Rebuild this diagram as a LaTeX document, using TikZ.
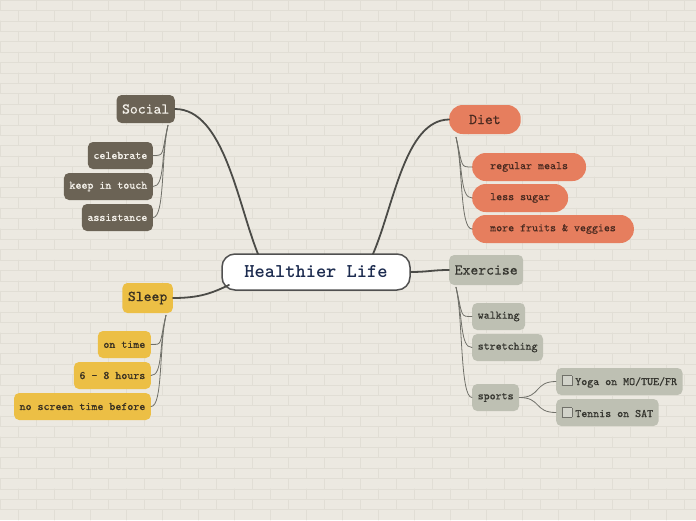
\documentclass[tikz,border=0pt]{standalone}
\usepackage{fontspec}
\usetikzlibrary{calc}
\newfontfamily\mapfont{lmmono10-regular.otf}[FakeBold=0.5]
\definecolor{paper}{HTML}{ECE9E1}
\definecolor{mortar}{HTML}{E1DED5}
\definecolor{hubline}{HTML}{505050}
\definecolor{hubtext}{HTML}{1C2B4F}
\definecolor{branch}{HTML}{4B4B47}
\definecolor{twig}{HTML}{707069}
\definecolor{socialfill}{HTML}{6B6355}
\definecolor{socialtext}{HTML}{F4F1EA}
\definecolor{sleepfill}{HTML}{ECBF45}
\definecolor{sleeptext}{HTML}{3B3222}
\definecolor{dietfill}{HTML}{E67E5E}
\definecolor{diettext}{HTML}{4A2A20}
\definecolor{exfill}{HTML}{BEC0B3}
\definecolor{extext}{HTML}{35352F}
\newcommand\tickbox{{\setlength\fboxsep{0pt}\setlength\fboxrule{0.8pt}%
  \fcolorbox{twig}{exfill!70!white}{\rule{0pt}{9pt}\hspace{9pt}}}\hspace{3pt}}
\tikzset{
  mapbase/.style={x=1pt, y=-1pt, line cap=round, line join=round},
  hubnode/.style={
    draw=hubline, line width=1.5pt, fill=white,
    rounded corners=13pt,
    minimum width=188pt, minimum height=36pt,
    font=\ttfamily\bfseries\fontsize{19.5}{22}\selectfont, text=hubtext,
  },
  topic/.style={
    rounded corners=5pt, minimum height=28pt, inner xsep=5.5pt,
    font=\mapfont\fontsize{15}{18}\selectfont,
  },
  leaf/.style={
    rounded corners=5pt, minimum height=27pt, inner xsep=5.5pt,
    font=\mapfont\fontsize{11.4}{13}\selectfont,
  },
  pill/.style={rounded corners=13.5pt, inner xsep=18pt},
  social/.style={fill=socialfill, text=socialtext},
  sleep/.style={fill=sleepfill, text=sleeptext},
  diet/.style={fill=dietfill, text=diettext},
  exercise/.style={fill=exfill, text=extext},
  trunk/.style={draw=branch, line width=1.8pt},
  twigline/.style={draw=twig, line width=0.8pt},
}

\begin{document}
\begin{tikzpicture}[mapbase]
  % paper with faint bricks
  \fill[paper] (0,0) rectangle (696,520);
  \useasboundingbox (0,0) rectangle (696,520);
  \foreach \r in {0,...,49} {
    \draw[mortar, line width=0.5pt] (0,\r*10.4) -- (696,\r*10.4);
    \pgfmathsetmacro\off{mod(\r,2)*18}
    \foreach \b in {0,...,19}
      \draw[mortar, line width=0.5pt] (\b*36+\off,\r*10.4) -- (\b*36+\off,\r*10.4+10.4);
  }

  \node[hubnode] (hub) at (316,272) {Healthier Life};

  % left side
  \node[topic, social, anchor=east] (social) at (175,109) {Social};
  \node[leaf, social, anchor=east] (celebrate) at (153,155.5) {celebrate};
  \node[leaf, social, anchor=east] (keep) at (153,186.5) {keep in touch};
  \node[leaf, social, anchor=east] (assist) at (153,217.5) {assistance};

  \node[topic, sleep, anchor=east, minimum height=30pt] (sleep) at (173,298) {Sleep};
  \node[leaf, sleep, anchor=east] (ontime) at (151,344.5) {on time};
  \node[leaf, sleep, anchor=east] (hours) at (151,375.5) {6 - 8 hours};
  \node[leaf, sleep, anchor=east] (screen) at (151,406.5) {no screen time before};

  % right side
  \node[topic, pill, diet, anchor=west, minimum height=29pt, inner xsep=20pt] (diet) at (449,119.5) {Diet};
  \node[leaf, pill, diet, anchor=west, minimum height=28pt] (meals) at (472,167) {regular meals};
  \node[leaf, pill, diet, anchor=west, minimum height=28pt] (sugar) at (472,198) {less sugar};
  \node[leaf, pill, diet, anchor=west, minimum height=28pt] (fruits) at (472,229) {more fruits \& veggies};

  \node[topic, exercise, anchor=west, minimum height=30pt] (exercise) at (449,270) {Exercise};
  \node[leaf, exercise, anchor=west] (walking) at (472,316.5) {walking};
  \node[leaf, exercise, anchor=west] (stretching) at (472,347.5) {stretching};
  \node[leaf, exercise, anchor=west] (sports) at (472,397.5) {sports};
  \node[leaf, exercise, anchor=west] (yoga) at (556,381.5) {\tickbox Yoga on MO/TUE/FR};
  \node[leaf, exercise, anchor=west] (tennis) at (556,412.5) {\tickbox Tennis on SAT};

  % main branches
  \draw[trunk] ($(hub.center)+(-58,-18)$) .. controls (238,205) and (224,109) .. (social.east);
  \draw[trunk] ($(hub.center)+(57,-18)$) .. controls (394,205) and (405,120) .. (diet.west);
  \draw[trunk] ($(hub.center)+(-87,13)$) .. controls (212,293) and (200,298) .. (sleep.east);
  \draw[trunk] (hub.east) .. controls (428,272) and (432,270) .. (exercise.west);

  % twigs
  \coordinate (socialroot) at ($(social.south east)+(-7,2)$);
  \foreach \c in {celebrate,keep,assist}
    \draw[twigline] (socialroot) .. controls +(-7,30) and +(12,0) .. (\c.east);
  \coordinate (sleeproot) at ($(sleep.south east)+(-7,2)$);
  \foreach \c in {ontime,hours,screen}
    \draw[twigline] (sleeproot) .. controls +(-7,30) and +(12,0) .. (\c.east);
  \coordinate (dietroot) at ($(diet.south west)+(7,3)$);
  \foreach \c in {meals,sugar,fruits}
    \draw[twigline] (dietroot) .. controls +(7,30) and +(-12,0) .. (\c.west);
  \coordinate (exroot) at ($(exercise.south west)+(7,2)$);
  \foreach \c in {walking,stretching,sports}
    \draw[twigline] (exroot) .. controls +(7,30) and +(-12,0) .. (\c.west);
  \foreach \c in {yoga,tennis}
    \draw[twigline] (sports.east) .. controls +(22,0) and +(-22,0) .. (\c.west);
\end{tikzpicture}
\end{document}
